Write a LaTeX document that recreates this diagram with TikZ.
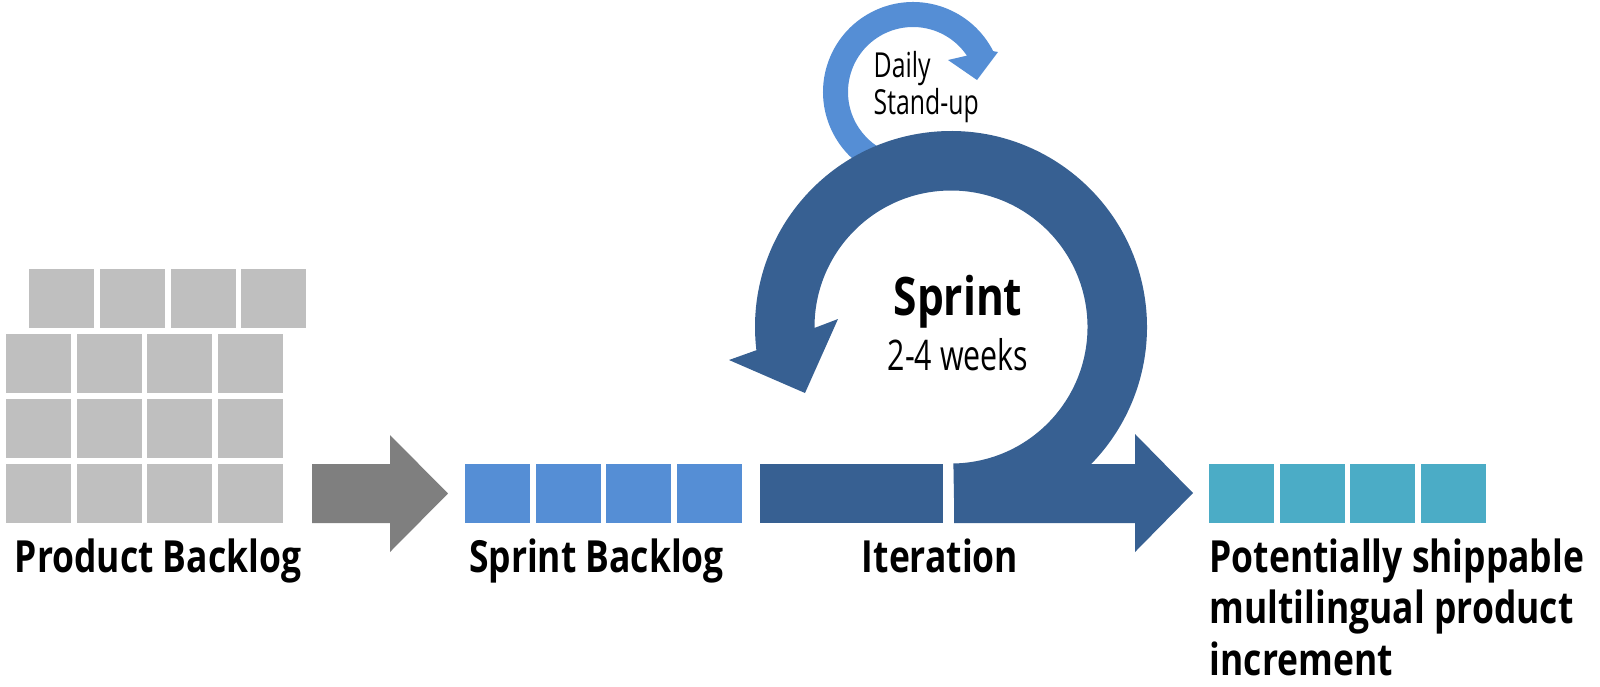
\documentclass[tikz,border=0pt]{standalone}
\usepackage{fontspec}
\setmainfont{Open Sans}[FakeStretch=0.8]
\newfontfamily\thincond{Open Sans}[FakeStretch=0.72]
\usetikzlibrary{calc,positioning}

\definecolor{backloggray}{HTML}{BFBFBF}
\definecolor{arrowgray}{HTML}{7F7F7F}
\definecolor{sprintblue}{HTML}{558ED5}
\definecolor{iterblue}{HTML}{376092}
\definecolor{doneteal}{HTML}{4BACC6}

\tikzset{
  item/.style={minimum width=0.65cm, minimum height=0.59cm, inner sep=0pt, outer sep=0pt, anchor=south west},
  caption/.style={font=\bfseries\fontsize{12.6}{14.65}\selectfont, inner sep=0pt}
}

\begin{document}
\begin{tikzpicture}[line join=round]
    \useasboundingbox (0,0) rectangle (16,6.86);

    % --- Product backlog: 4 rows of items, top row shifted ---
    \foreach \c in {0,...,3} {
      \node[item, fill=backloggray] (pb-0-\c) at ({0.293+0.707*\c},3.58) {};
      \foreach \r in {1,2,3}
        \node[item, fill=backloggray] (pb-\r-\c) at ({0.06+0.707*\c},{3.58-0.65*\r}) {};
    }
    \node[caption, anchor=base] (pbtext) at (1.58,1.14) {Product Backlog};

    % --- gray block arrow into the sprint ---
    \coordinate (ga) at (3.12,1.63);
    \fill[arrowgray] (ga) -- ++(0.78,0) -- ++(0,-0.29) -- (4.48,1.925) -- (3.90,2.51) -- (3.90,2.22) -- (3.12,2.22) -- cycle;

    % --- sprint backlog ---
    \foreach \c in {0,...,3}
      \node[item, fill=sprintblue] (sb-\c) at ({4.65+0.707*\c},1.63) {};
    \node[caption, anchor=base] (sbtext) at (5.965,1.14) {Sprint Backlog};

    % --- daily stand-up loop (drawn first, the sprint loop covers its end) ---
    \coordinate (dc) at (9.13,5.94);
    \fill[sprintblue] ($(dc)+(250:0.90)$) arc[start angle=250, end angle=27, radius=0.90]
      -- (9.98,6.34) -- (9.77,6.06) -- (9.48,6.26)
      -- ($(dc)+(34:0.65)$) arc[start angle=34, end angle=250, radius=0.65] -- cycle;
    \node[align=left, anchor=base west, inner sep=0pt, font=\thincond\fontsize{9.8}{10.5}\selectfont] (dailytext) at (8.73,5.72) {Daily\\Stand-up};

    % --- sprint loop ---
    \coordinate (sc) at (9.51,3.59);
    \fill[iterblue] ($(sc)+(-89:1.365)$) arc[start angle=-89, end angle=180.4, radius=1.365]
      -- (8.38,3.67) -- (8.05,2.93) -- (7.29,3.26)
      -- ($(sc)+(186.8:1.96)$) arc[start angle=186.8, end angle=-89, radius=1.96] -- cycle;
    \node[font=\bfseries\fontsize{15.1}{18}\selectfont, anchor=base, inner sep=0pt] (sprinttext) at (9.58,3.71) {Sprint};
    \node[font=\thincond\fontsize{12}{14}\selectfont, anchor=base, inner sep=0pt] (weekstext) at (9.58,3.16) {2-4 weeks};

    % --- iteration bar and outgoing arrow ---
    \node[item, fill=iterblue, minimum width=1.83cm] (iter) at (7.60,1.63) {};
    \fill[iterblue] (9.54,1.63) -- (11.35,1.63) -- (11.35,1.34) -- (11.93,1.93) -- (11.35,2.52) -- (11.35,2.22) -- (9.54,2.22) -- cycle;
    \node[caption, anchor=base] (itertext) at (9.40,1.14) {Iteration};

    % --- increment ---
    \foreach \c in {0,...,3}
      \node[item, fill=doneteal] (inc-\c) at ({12.09+0.707*\c},1.63) {};
    \node[caption, align=left, anchor=base west] (inctext) at (12.09,0.11) {Potentially shippable\\multilingual product\\increment};

\end{tikzpicture}
\end{document}
